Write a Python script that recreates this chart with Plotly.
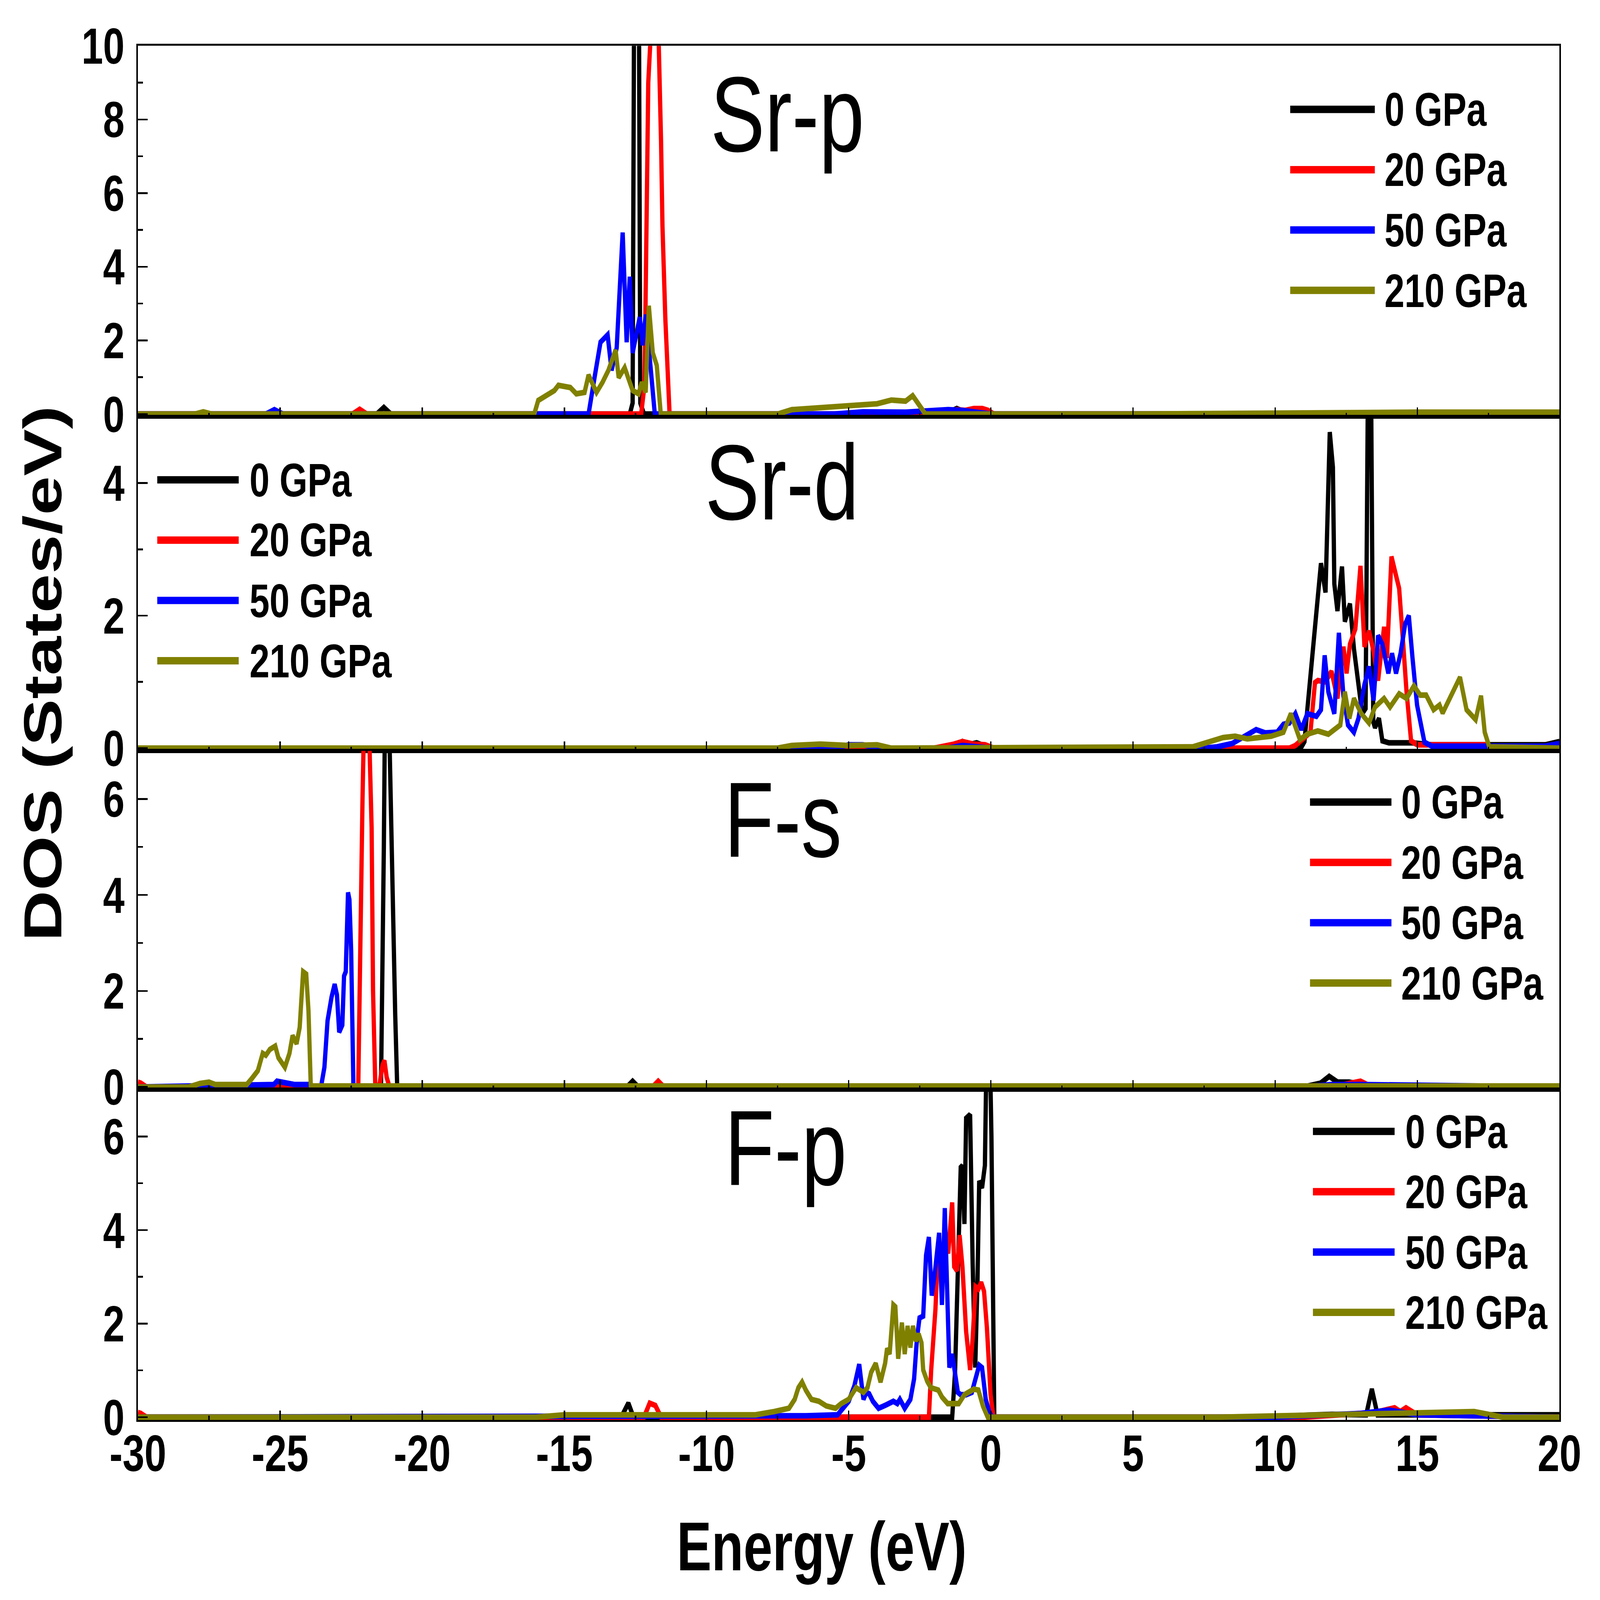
import plotly.graph_objects as go
from plotly.subplots import make_subplots

W, H = 7112, 5412
L, R, T, B = 613, 6932, 155, 4803  # plot area in page pixels

pressures = ["0 GPa", "20 GPa", "50 GPa", "210 GPa"]
colors = ["#000000", "#FF0000", "#0000FF", "#808000"]
panels = ["Sr-p", "Sr-d", "F-s", "F-p"]
y_max = [10, 5, 7, 7]

x_ticks = [-30, -25, -20, -15, -10, -5, 0, 5, 10, 15, 20]
x_ticklabels = ["-30", "-25", "-20", "-15", "-10", "-5", "0", "5", "10", "15", "20"]

# ---- Sr-p ----
srp_e_0 = [-30, -21.6, -21.35, -21.1, -12.7, -12.6, -12.46, -12.33, -12.2, -1.6, -1.2, -0.9, -0.6, -0.3, 0, 20]
srp_d_0 = [0, 0, 0.18, 0, 0, 0.3, 30, 0.3, 0, 0, 0.15, 0.05, 0.12, 0.1, 0, 0]
srp_e_20 = [-30, -22.45, -22.2, -21.95, -12.3, -12.18, -12.05, -11.85, -11.68, -11.62, -11.6, -11.55,
            -11.45, -11.3, -1.5, -1.2, -0.9, -0.6, -0.3, -0.1, 0.1, 20]
srp_d_20 = [0, 0, 0.13, 0, 0, 0.8, 9, 12, 10, 8.45, 7.4, 5.1, 2.6, 0, 0, 0.12, 0.1, 0.15, 0.15, 0.1, 0, 0]
srp_e_50 = [-30, -25.5, -25.2, -24.9, -14.2, -14.15, -13.94, -13.73, -13.48, -13.34, -13.16, -12.95, -12.81,
            -12.70, -12.60, -12.35, -12.25, -12.14, -11.96, -11.82, -5.5, -4.5, -3.0, -1.5, -1.0, -0.5, 0,
            10, 15, 20]
srp_d_50 = [0, 0, 0.12, 0, 0, 0, 0.99, 1.95, 2.15, 1.19, 1.8, 4.93, 1.95, 3.73, 1.66, 2.63, 1.87, 2.7, 1.2, 0,
            0, 0.06, 0.05, 0.12, 0.1, 0.05, 0, 0, 0.03, 0.05]
srp_e_210 = [-30, -28, -27.7, -27.4, -16.1, -16.06, -15.92, -15.35, -15.21, -14.79, -14.58, -14.29, -14.15,
             -13.87, -13.66, -13.45, -13.20, -13.09, -12.88, -12.60, -12.39, -12.28, -12.14, -12.03, -11.89,
             -11.75, -11.61, -7.5, -7.0, -6.0, -5.0, -4.0, -3.5, -3.0, -2.75, -2.5, -2.3, 5, 10, 15, 20]
srp_d_210 = [0, 0, 0.06, 0, 0, 0, 0.37, 0.64, 0.78, 0.72, 0.55, 0.59, 1.06, 0.59, 0.86, 1.19, 1.74, 0.99,
             1.26, 0.64, 0.55, 0.86, 0.59, 2.94, 1.66, 1.32, 0, 0, 0.12, 0.18, 0.22, 0.28, 0.38, 0.35, 0.5,
             0.25, 0, 0, 0.03, 0.05, 0.05]

# ---- Sr-d ----
srd_e_0 = [-30, -5, -1.5, -1.2, -1.0, -0.8, -0.5, -0.2, 0, 10.9, 11.03, 11.13, 11.34, 11.50, 11.61, 11.77,
           11.82, 11.92, 12.03, 12.08, 12.19, 12.35, 12.45, 12.63, 12.77, 12.93, 13.06, 13.18, 13.32, 13.45,
           13.51, 13.65, 13.77, 14.0, 14.83, 15.5, 19.5, 20]
srd_d_0 = [0, 0, 0, 0.05, 0.1, 0.05, 0.08, 0.03, 0, 0, 0.1, 0.58, 1.6, 2.21, 2.79, 2.35, 3.23, 4.77, 4.24,
           2.48, 2.07, 2.74, 1.91, 2.18, 1.5, 0.92, 0.52, 0.6, 9, 0.4, 0.31, 0.45, 0.11, 0.08, 0.08, 0.05,
           0.05, 0.1]
srd_e_20 = [-30, -2, -1.3, -1.0, -0.6, -0.2, 0.1, 10.5, 10.71, 11.24, 11.40, 11.50, 11.77, 11.98, 12.19,
            12.40, 12.51, 12.63, 12.82, 13.0, 13.14, 13.30, 13.46, 13.62, 13.83, 13.93, 14.09, 14.25, 14.36,
            14.51, 14.62, 14.78, 15.0, 17.4, 17.6, 20]
srd_d_20 = [0, 0, 0.06, 0.1, 0.06, 0.05, 0, 0, 0.04, 0.24, 0.99, 1.02, 1.0, 1.16, 0.75, 1.53, 1.13, 1.57,
            1.8, 2.75, 1.53, 1.77, 1.46, 1.02, 1.83, 1.36, 2.89, 2.62, 2.41, 1.53, 0.85, 0.11, 0.05, 0.05, 0, 0]
srd_e_50 = [-30, -5.5, -5, -4.5, -4, -1.5, -1, -0.5, 0, 7.5, 7.96, 8.49, 9.33, 9.65, 10.07, 10.29, 10.50,
            10.71, 10.92, 11.13, 11.45, 11.61, 11.74, 11.87, 12.08, 12.24, 12.40, 12.56, 12.77, 12.93, 13.14,
            13.30, 13.46, 13.62, 13.77, 13.98, 14.11, 14.25, 14.41, 14.57, 14.70, 14.83, 14.99, 15.25, 15.5,
            19.5, 20]
srd_d_50 = [0, 0, 0.05, 0.05, 0, 0, 0.04, 0.03, 0, 0, 0.02, 0.07, 0.28, 0.23, 0.24, 0.36, 0.38, 0.52, 0.28,
            0.52, 0.48, 0.58, 1.4, 0.85, 0.52, 1.74, 0.79, 0.35, 0.24, 0.45, 0.96, 1.23, 0.72, 1.7, 1.57, 1.13,
            1.43, 1.13, 1.43, 1.87, 2.0, 1.36, 0.65, 0.09, 0.03, 0.03, 0.07]
srd_e_210 = [-30, -7.5, -7, -6, -5, -4, -3.5, 7.11, 8.17, 8.59, 9.02, 9.86, 10.29, 10.55, 10.87, 11.13,
             11.50, 11.87, 12.29, 12.45, 12.61, 12.77, 13.03, 13.30, 13.51, 13.83, 14.04, 14.36, 14.62, 14.88,
             15.10, 15.31, 15.57, 15.78, 15.89, 16.20, 16.50, 16.73, 17.05, 17.24, 17.37, 17.53, 20]
srd_d_210 = [0, 0, 0.04, 0.06, 0.04, 0.05, 0, 0.02, 0.16, 0.18, 0.14, 0.18, 0.24, 0.52, 0.13, 0.21, 0.26,
             0.21, 0.35, 0.85, 0.45, 0.75, 0.52, 0.38, 0.62, 0.75, 0.62, 0.82, 0.75, 0.94, 0.80, 0.80, 0.58,
             0.65, 0.53, 0.79, 1.07, 0.58, 0.43, 0.79, 0.24, 0.02, 0]

# ---- F-s ----
fs_e_0 = [-30, -21.45, -21.35, -21.25, -21.15, -21.08, -20.95, -20.88, -12.8, -12.6, -12.4, 11, 11.6, 11.9,
          12.2, 12.6, 13.0, 13.5, 20]
fs_d_0 = [0, 0, 5, 12, 7.2, 4.9, 1.5, 0, 0, 0.12, 0, 0, 0.08, 0.22, 0.1, 0.1, 0.05, 0, 0]
fs_e_20 = [-30, -29.9, -29.7, -22.25, -22.1, -21.97, -21.85, -21.78, -21.73, -21.65, -21.5, -21.4, -21.33,
           -21.25, -21.15, -11.9, -11.7, -11.5, 12, 12.6, 13.0, 13.4, 20]
fs_d_20 = [0.1, 0.08, 0, 0, 6, 10, 7, 5.4, 2, 0, 0.05, 0.45, 0.55, 0.2, 0, 0, 0.12, 0, 0, 0.08, 0.12, 0, 0]
fs_e_50 = [-30, -26.0, -25.22, -25.11, -24.94, -24.5, -24.0, -23.9, -23.56, -23.44, -23.33, -23.28, -23.19,
           -23.08, -23.0, -22.92, -22.81, -22.75, -22.69, -22.61, -22.56, -22.5, -22.42, 11, 12, 13, 20]
fs_d_50 = [0, 0.02, 0.05, 0.12, 0.1, 0.05, 0.05, 0, 0, 0.41, 1.38, 1.58, 1.87, 2.14, 1.92, 1.14, 1.29, 2.31,
           2.4, 4.05, 3.9, 2.84, 0, 0, 0.05, 0.05, 0]
fs_e_210 = [-30, -28.2, -27.83, -27.5, -27.28, -26.17, -26.0, -25.78, -25.61, -25.5, -25.36, -25.17, -25.06,
            -24.83, -24.67, -24.56, -24.42, -24.31, -24.19, -24.08, -24.0, -23.92, 20]
fs_d_210 = [0, 0, 0.07, 0.1, 0.05, 0.05, 0.17, 0.34, 0.70, 0.66, 0.78, 0.85, 0.61, 0.41, 0.70, 1.07, 0.90,
            1.24, 2.40, 2.35, 1.58, 0.02, 0.02]

# ---- F-p ----
fp_e_0 = [-30, -13.0, -12.75, -12.6, -12.45, -1.36, -1.26, -1.16, -1.06, -1.0, -0.93, -0.87, -0.73, -0.64,
          -0.55, -0.47, -0.41, -0.31, -0.21, -0.1, 0.02, 0.12, 10, 11, 12, 13.2, 13.4, 13.6, 16, 18, 19, 20]
fp_d_0 = [0, 0, 0.3, 0.05, 0, 0, 0.96, 3.03, 5.34, 5.38, 4.13, 6.39, 6.47, 3.27, 1.06, 2.93, 5.05, 4.9,
          5.38, 10, 6, 0, 0, 0.04, 0.06, 0.05, 0.6, 0.05, 0.05, 0.08, 0.08, 0.05]
fp_e_20 = [-30, -29.9, -29.7, -12.2, -12.0, -11.8, -11.6, -2.18, -2.1, -2.02, -1.95, -1.9, -1.8, -1.7,
           -1.6, -1.5, -1.36, -1.29, -1.19, -1.10, -1.0, -0.87, -0.73, -0.64, -0.54, -0.44, -0.34, -0.24,
           -0.14, -0.01, 0.09, 11, 12.5, 13.5, 14.2, 14.4, 14.6, 15, 20]
fp_d_20 = [0.1, 0.08, 0, 0, 0.3, 0.25, 0, 0, 1.0, 1.6, 2.3, 3.0, 3.3, 3.6, 3.8, 3.5, 4.59, 3.22, 3.13, 3.89,
           3.22, 1.83, 1.01, 1.68, 2.79, 2.74, 2.88, 2.69, 1.92, 0.48, 0, 0, 0.05, 0.1, 0.2, 0.12, 0.2, 0.05, 0]
fp_e_50 = [-30, -15, -14, -6.5, -5.39, -5.0, -4.80, -4.70, -4.63, -4.54, -4.48, -4.38, -4.28, -4.15, -3.95,
           -3.69, -3.43, -3.29, -3.20, -3.03, -2.83, -2.70, -2.60, -2.51, -2.38, -2.28, -2.18, -2.08, -1.98,
           -1.82, -1.72, -1.62, -1.55, -1.46, -1.36, -1.26, -1.16, -1.06, -0.87, -0.67, -0.54, -0.41, -0.31,
           -0.18, -0.05, 0.05, 10, 12, 13, 14, 15, 20]
fp_d_50 = [0, 0, 0.03, 0.03, 0.05, 0.34, 0.67, 1.01, 1.13, 0.67, 0.38, 0.53, 0.5, 0.34, 0.19, 0.26, 0.34,
           0.29, 0.38, 0.19, 0.38, 0.82, 1.68, 2.12, 2.16, 3.46, 3.85, 2.60, 3.03, 3.94, 2.40, 4.47, 3.13, 1.06,
           1.35, 0.96, 0.53, 0.48, 0.48, 0.53, 0.82, 1.11, 1.06, 0.38, 0.1, 0, 0, 0.05, 0.08, 0.15, 0.05, 0]
fp_e_210 = [-30, -16, -15, -12, -10, -8.28, -7.62, -7.1, -6.90, -6.77, -6.64, -6.51, -6.31, -6.05, -5.79,
            -5.46, -5.26, -5.0, -4.74, -4.48, -4.34, -4.21, -4.05, -3.88, -3.72, -3.65, -3.56, -3.43, -3.36,
            -3.26, -3.13, -3.03, -2.93, -2.83, -2.74, -2.64, -2.54, -2.44, -2.38, -2.24, -2.11, -1.85, -1.72,
            -1.52, -1.13, -0.93, -0.60, -0.44, -0.28, -0.11, 8, 12, 14, 16, 17, 18, 20]
fp_d_210 = [0, 0, 0.05, 0.05, 0.04, 0.05, 0.12, 0.19, 0.38, 0.63, 0.75, 0.58, 0.38, 0.34, 0.24, 0.19, 0.29,
            0.38, 0.63, 0.53, 0.63, 0.96, 1.15, 0.75, 1.15, 1.47, 1.35, 2.40, 2.36, 1.25, 2.02, 1.35, 1.95,
            1.49, 1.95, 1.63, 1.78, 1.59, 1.01, 0.77, 0.63, 0.58, 0.43, 0.29, 0.29, 0.48, 0.60, 0.58, 0.24, 0,
            0, 0.05, 0.1, 0.1, 0.12, 0, 0]

curves = [
    [(srp_e_0, srp_d_0), (srp_e_20, srp_d_20), (srp_e_50, srp_d_50), (srp_e_210, srp_d_210)],
    [(srd_e_0, srd_d_0), (srd_e_20, srd_d_20), (srd_e_50, srd_d_50), (srd_e_210, srd_d_210)],
    [(fs_e_0, fs_d_0), (fs_e_20, fs_d_20), (fs_e_50, fs_d_50), (fs_e_210, fs_d_210)],
    [(fp_e_0, fp_d_0), (fp_e_20, fp_d_20), (fp_e_50, fp_d_50), (fp_e_210, fp_d_210)],
]


# page pixel -> paper fraction (paper = the plot area inside the margins)
def px(x):
    return (x - L) / (R - L)


def py(y):
    return (B - y) / (B - T)


# layout (page pixels) for panel labels and the hand-drawn legends
label_pos = [(3500, 387), (3476, 1632), (3480, 2772), (3492, 3883)]
legend_pos = [  # line x0, line x1, text x, first row y
    (5735, 6111, 6152, 370),
    (699, 1061, 1107, 1623),
    (5823, 6185, 6226, 2713),
    (5836, 6199, 6244, 3827),
]
row_step = 204
heights = [1255, 1130, 1146, 1117]
lw = 19

font_b = dict(family="Liberation Sans", color="black", weight="bold")

fig = make_subplots(rows=4, cols=1, shared_xaxes=True, vertical_spacing=0, row_heights=heights)

for r in range(4):
    for k in range(4):
        e, d = curves[r][k]
        fig.add_trace(go.Scatter(x=e, y=d, mode="lines", name=pressures[k],
                                 line=dict(color=colors[k], width=lw),
                                 showlegend=False), row=r + 1, col=1)

    pad = y_max[r] * (lw / 2) / heights[r]
    fig.update_yaxes(range=[-pad, y_max[r]], dtick=2, tick0=0,
                     showline=True, linecolor="black", linewidth=7, mirror=True,
                     ticks="inside", ticklen=44, tickwidth=6, tickcolor="black",
                     minor=dict(dtick=1, tick0=0, ticks="inside", ticklen=23, tickwidth=6,
                                tickcolor="black"),
                     showgrid=False, zeroline=False, ticklabelstandoff=18,
                     tickfont=dict(size=172, **font_b), row=r + 1, col=1)
    fig.update_xaxes(range=[-30, 20], tickmode="array", tickvals=x_ticks, ticktext=x_ticklabels,
                     showline=True, linecolor="black", linewidth=7, mirror=True,
                     ticks="inside", ticklen=32, tickwidth=6, tickcolor="black",
                     minor=dict(dtick=2.5, tick0=0, ticks="inside", ticklen=14, tickwidth=6,
                                tickcolor="black"),
                     showgrid=False, zeroline=False, ticklabelstandoff=-44,
                     tickfont=dict(size=175, **font_b), row=r + 1, col=1)

    # panel label
    lx, ly = label_pos[r]
    fig.add_annotation(x=px(lx), y=py(ly), xref="paper", yref="paper", text=panels[r],
                       showarrow=False, xanchor="center", yanchor="middle",
                       font=dict(family="Liberation Sans", size=362, color="black"))

    # legend
    x0, x1, tx, y0 = legend_pos[r]
    for k in range(4):
        yy = py(y0 + k * row_step)
        fig.add_shape(type="line", xref="paper", yref="paper", x0=px(x0), x1=px(x1), y0=yy, y1=yy,
                      line=dict(color=colors[k], width=25))
        fig.add_annotation(x=px(tx), y=yy, xref="paper", yref="paper", text=pressures[k],
                           showarrow=False, xanchor="left", yanchor="middle",
                           font=dict(size=160, **font_b))

# axis titles
fig.add_annotation(x=px(190), y=py(2278), xref="paper", yref="paper", text="DOS (States/eV)",
                   textangle=-90, showarrow=False, xanchor="center", yanchor="middle",
                   font=dict(size=238, **font_b))
fig.add_annotation(x=px(3652), y=py(5231), xref="paper", yref="paper", text="Energy (eV)",
                   showarrow=False, xanchor="center", yanchor="middle",
                   font=dict(size=232, **font_b))

fig.update_layout(width=W, height=H, plot_bgcolor="white", paper_bgcolor="white",
                  margin=dict(l=L, r=W - R, t=T, b=H - B),
                  showlegend=False)

# the browser window can come out smaller than the figure; shrink the figure to fit it
fit = """
var gd = document.getElementById('{plot_id}');
var sx = Math.min(window.innerWidth / %d, 1), sy = Math.min(window.innerHeight / %d, 1);
document.body.style.margin = '0';
document.body.style.overflow = 'hidden';
gd.style.transformOrigin = '0 0';
gd.style.transform = 'scale(' + sx + ',' + sy + ')';
""" % (W, H)
fig.write_html("out.html", post_script=fit, config={"displayModeBar": False})
